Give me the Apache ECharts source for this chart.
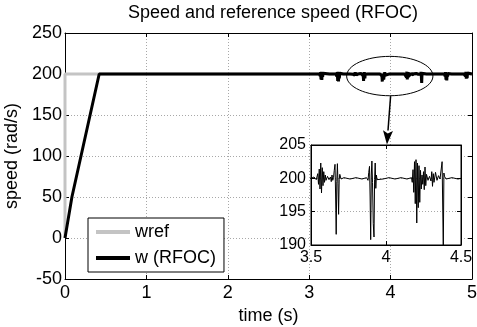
<!DOCTYPE html>
<html>
<head>
<meta charset="utf-8">
<script src="https://cdn.jsdelivr.net/npm/echarts@6/dist/echarts.min.js"></script>
<style>
  html, body { margin: 0; padding: 0; background: #fff; }
  #chart { width: 477px; height: 327px; }
</style>
</head>
<body>
<div id="chart"></div>
<script>
// Reference speed command (step to 200 rad/s at t = 0)
const refTime  = [0, 0, 5];
const refSpeed = [0, 200, 200];

// Measured rotor speed w (RFOC): ramp-up, steady state and load-disturbance ripples
const wTime = [
  0, 0.085, 0.42, 1.0, 2.0, 3.0, 3.06, 3.1,
  3.125, 3.13, 3.135, 3.14, 3.145, 3.15, 3.155, 3.16, 3.165, 3.17, 3.175, 3.185,
  3.25, 3.33, 3.335, 3.34, 3.345, 3.35, 3.355, 3.36, 3.365, 3.37, 3.375, 3.38, 3.39,
  3.42, 3.46, 3.5, 3.52, 3.535, 3.545, 3.55, 3.555, 3.56, 3.565, 3.57, 3.575, 3.58,
  3.585, 3.59, 3.595, 3.6, 3.61, 3.62, 3.63, 3.635, 3.64, 3.645, 3.65, 3.655, 3.66,
  3.664, 3.668, 3.672, 3.676, 3.68, 3.684, 3.688, 3.692, 3.7, 3.72, 3.76, 3.8, 3.84,
  3.87, 3.88, 3.885, 3.89, 3.894, 3.898, 3.902, 3.906, 3.91, 3.915, 3.92, 3.924,
  3.928, 3.932, 3.936, 3.94, 3.95, 3.98, 4.02, 4.06, 4.1, 4.14, 4.17, 4.175, 4.18,
  4.185, 4.19, 4.195, 4.2, 4.205, 4.21, 4.215, 4.22, 4.225, 4.23, 4.235, 4.24, 4.245,
  4.25, 4.255, 4.26, 4.265, 4.27, 4.28, 4.29, 4.3, 4.305, 4.31, 4.315, 4.32, 4.33,
  4.34, 4.35, 4.36, 4.37, 4.374, 4.378, 4.382, 4.386, 4.39, 4.4, 4.44, 4.48, 4.52,
  4.56, 4.6, 4.66, 4.665, 4.67, 4.675, 4.68, 4.685, 4.69, 4.695, 4.7, 4.705, 4.715,
  4.75, 4.8, 4.85, 4.9, 4.915, 4.92, 4.925, 4.93, 4.935, 4.94, 4.945, 4.95, 4.96, 5.0
];
const wSpeed = [
  0, 50, 200, 200, 200, 200, 200.1, 199.9,
  200, 201.2, 197.5, 202.3, 193.5, 202.5, 192.8, 201.8, 196.5, 200.8, 199.6, 200.1,
  199.9, 200, 201.5, 196.8, 202.4, 191.5, 202.6, 190.8, 201.8, 194.8, 200.9, 199.5, 200.1,
  199.9, 200.1, 200, 200.2, 199.8, 200.7, 199.1, 201.4, 198.4, 202.3, 197.8, 201.6, 198.9,
  201.0, 199.4, 200.5, 199.7, 200.3, 199.8, 200.2, 199.5, 200.5, 199.7, 200.1, 201.2, 202.1,
  197.5, 191.6, 199.5, 202.2, 199.2, 194.6, 199.8, 200.6, 199.9, 200.1, 199.9, 200.1, 199.9,
  200.1, 199.7, 200.9, 201.8, 197.2, 190.8, 200.5, 202.6, 199.4, 193.2, 191.2, 199.8,
  202.3, 198.5, 200.5, 199.8, 200.1, 199.9, 200.1, 199.9, 200.1, 199.9, 200.1, 199.4, 201.3,
  197.9, 202.5, 196.2, 202.8, 193.3, 202.3, 195.6, 201.9, 196.4, 201.2, 198.4, 200.5, 199.1,
  201.0, 198.3, 201.7, 198.9, 200.6, 199.7, 200.3, 199.6, 201.0, 198.8, 200.7, 199.4, 200.9,
  199.7, 200.4, 199.9, 199.6, 202.5, 196.0, 189.2, 200.8, 200.3, 199.9, 200.1, 199.9, 200.1,
  199.9, 200.1, 200, 201.4, 197.2, 202.2, 193.0, 202.0, 192.2, 201.3, 196.8, 200.6, 200,
  200.1, 199.9, 200.1, 200, 201.5, 197.3, 202.6, 194.2, 202.4, 195.0, 201.2, 199.2, 200.1, 200
];

// Axis ranges and tick spacing
const mainX = { min: 0, max: 5, step: 1 };
const mainY = { min: -50, max: 250, step: 50 };
const zoomX = { min: 3.5, max: 4.5, step: 0.5 };
const zoomY = { min: 190, max: 205, step: 5 };

const FONT = "'Liberation Sans', Arial, Helvetica, sans-serif";
const zip = (a, b) => a.map((v, i) => [v, b[i]]);

const chart = echarts.init(document.getElementById('chart'), null, { renderer: 'canvas' });

const gridLine = { show: true, lineStyle: { color: '#a8a8a8', type: [1, 2], width: 1 } };
const frame = { show: true, onZero: false, lineStyle: { color: '#000', width: 1 } };

function axis(gridIndex, pos, range, labelled, fontSize, margin, split) {
  return {
    type: 'value', gridIndex, position: pos,
    min: range.min, max: range.max, interval: range.step,
    axisLine: frame,
    axisTick: { show: true, inside: true, length: 4, lineStyle: { color: '#000' } },
    axisLabel: { show: labelled, color: '#000', fontFamily: FONT, fontSize, margin },
    splitLine: split ? gridLine : { show: false }
  };
}

const xMain = axis(0, 'bottom', mainX, true, 18, 5, true);
xMain.name = 'time (s)';
xMain.nameLocation = 'middle';
xMain.nameGap = 25;
xMain.nameTextStyle = { color: '#000', fontFamily: FONT, fontSize: 18 };

const yMain = axis(0, 'left', mainY, true, 18, 3, true);
yMain.name = 'speed (rad/s)';
yMain.nameLocation = 'middle';
yMain.nameGap = 42;
yMain.nameTextStyle = { color: '#000', fontFamily: FONT, fontSize: 18 };

const option = {
  backgroundColor: '#fff',
  animation: false,
  title: {
    text: 'Speed and reference speed (RFOC)',
    left: 268, top: -1, textAlign: 'center',
    textStyle: { color: '#000', fontFamily: FONT, fontSize: 18, fontWeight: 'normal' }
  },
  legend: {
    orient: 'vertical', left: 88, top: 218,
    data: [
      { name: 'wref', icon: 'rect' },
      { name: 'w (RFOC)', icon: 'rect' }
    ],
    itemWidth: 34, itemHeight: 4, itemGap: 8,
    padding: [5, 8, 5, 8],
    borderColor: '#000', borderWidth: 1, backgroundColor: '#fff',
    textStyle: { color: '#000', fontFamily: FONT, fontSize: 18 },
    z: 20
  },
  grid: [
    { left: 65, right: 5, top: 33, bottom: 48, show: false, outerBoundsMode: 'none' },
    { left: 311, right: 16, top: 145, bottom: 82, show: true, outerBoundsMode: 'none',
      backgroundColor: '#fff', borderColor: '#000', borderWidth: 1, z: 10 }
  ],
  xAxis: [
    xMain,
    axis(0, 'top', mainX, false, 18, 6, false),
    Object.assign(axis(1, 'bottom', zoomX, true, 16, 5, true), { z: 11 }),
    Object.assign(axis(1, 'top', zoomX, false, 16, 5, false), { z: 11 })
  ],
  yAxis: [
    yMain,
    axis(0, 'right', mainY, false, 18, 3, false),
    Object.assign(axis(1, 'left', zoomY, true, 16, 5, true), { z: 11 }),
    Object.assign(axis(1, 'right', zoomY, false, 16, 5, false), { z: 11 })
  ],
  series: [
    {
      name: 'wref', type: 'line', xAxisIndex: 0, yAxisIndex: 0,
      data: zip(refTime, refSpeed), symbol: 'none', z: 2,
      lineStyle: { color: '#c4c4c4', width: 3 }, itemStyle: { color: '#c4c4c4' }
    },
    {
      name: 'w (RFOC)', type: 'line', xAxisIndex: 0, yAxisIndex: 0,
      data: zip(wTime, wSpeed), symbol: 'none', z: 3,
      lineStyle: { color: '#000', width: 3 }, itemStyle: { color: '#000' }
    },
    {
      name: 'w zoom', type: 'line', xAxisIndex: 2, yAxisIndex: 2,
      data: zip(wTime, wSpeed), symbol: 'none', z: 12, clip: true,
      lineStyle: { color: '#000', width: 1 }
    }
  ]
};

chart.setOption(option);

// Callout: ellipse around the ripple region and an arrow down to the zoomed view
const calloutCenter = [3.99, 197.5];
const calloutHalf = [0.53, 24];
const arrowFrom = [4.0, 173];
const arrowTo = [3.955, 114];

const px = (p) => chart.convertToPixel({ xAxisIndex: 0, yAxisIndex: 0 }, p);
const c = px(calloutCenter);
const edge = px([calloutCenter[0] + calloutHalf[0], calloutCenter[1] + calloutHalf[1]]);
const a0 = px(arrowFrom);
const a1 = px(arrowTo);
const dx = a1[0] - a0[0], dy = a1[1] - a0[1];
const len = Math.hypot(dx, dy);
const ux = dx / len, uy = dy / len;
const headLen = 14, headHalf = 5;
const base = [a1[0] - ux * headLen, a1[1] - uy * headLen];

chart.setOption({
  graphic: [
    { type: 'ellipse', z: 30, silent: true,
      shape: { cx: c[0], cy: c[1], rx: Math.abs(edge[0] - c[0]), ry: Math.abs(edge[1] - c[1]) },
      style: { fill: 'none', stroke: '#000', lineWidth: 1 } },
    { type: 'line', z: 30, silent: true,
      shape: { x1: a0[0], y1: a0[1], x2: base[0], y2: base[1] },
      style: { stroke: '#000', lineWidth: 1.5 } },
    { type: 'polygon', z: 30, silent: true,
      shape: { points: [a1,
        [base[0] - uy * headHalf, base[1] + ux * headHalf],
        [base[0] + ux * 3, base[1] + uy * 3],
        [base[0] + uy * headHalf, base[1] - ux * headHalf]] },
      style: { fill: '#000' } }
  ]
});
</script>
</body>
</html>
